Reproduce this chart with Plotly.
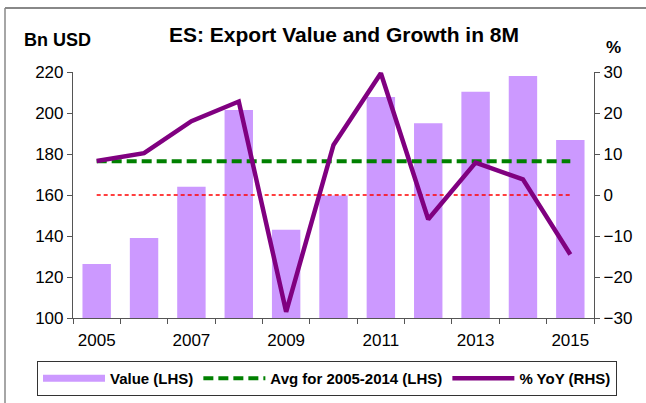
import plotly.graph_objects as go

years = list(range(2005, 2016))
value_bn_usd = [126.3, 139.0, 164.0, 201.5, 143.0, 159.8, 207.8, 195.0, 210.4, 218.0, 186.8]
yoy_pct = [8.3, 10.2, 18.0, 22.8, -28.5, 12.2, 29.7, -5.9, 7.9, 3.8, -14.5]
avg_years = years[:10]
avg_2005_2014 = sum(value_bn_usd[:10]) / len(avg_years)
zero_pct = [0] * len(years)

left_ticks = [100, 120, 140, 160, 180, 200, 220]
right_ticks = [-30, -20, -10, 0, 10, 20, 30]
x_label_years = [2005, 2007, 2009, 2011, 2013, 2015]
x_boundaries = [y - 0.5 for y in years] + [years[-1] + 0.5]

FONT = "Liberation Sans, Arial, sans-serif"
BAR_COLOR = "#CC99FF"
PW, PH = 521, 246  # plot area size in px

fig = go.Figure()
fig.add_trace(go.Bar(x=years, y=value_bn_usd, name="Value (LHS)", showlegend=False,
                     marker=dict(color=BAR_COLOR, line=dict(width=0)),
                     width=0.6, yaxis="y"))
fig.add_trace(go.Scatter(x=years, y=zero_pct, mode="lines", showlegend=False,
                         line=dict(color="#FF0000", width=1.5, dash="4px,3px"),
                         yaxis="y2", hoverinfo="skip"))
# legend-only entry for the bars (wide flat swatch as in reference)
fig.add_trace(go.Scatter(x=[None], y=[None], mode="lines", name="<b>Value (LHS)</b>",
                         line=dict(color=BAR_COLOR, width=7), yaxis="y"))
fig.add_trace(go.Scatter(x=years, y=[avg_2005_2014] * len(years), mode="lines",
                         name="<b>Avg for 2005-2014 (LHS)</b>",
                         line=dict(color="#008000", width=4, dash="10px,5px"),
                         yaxis="y"))
fig.add_trace(go.Scatter(x=years, y=yoy_pct, mode="lines", name="<b>% YoY (RHS)</b>",
                         line=dict(color="#800080", width=4.5),
                         yaxis="y2"))

fig.update_layout(
    width=646, height=403, autosize=False,
    margin=dict(l=73, r=52, t=72, b=85, autoexpand=False),
    paper_bgcolor="white", plot_bgcolor="white",
    font=dict(family=FONT, color="black", size=17),
    title=dict(text="<b>ES: Export Value and Growth in 8M</b>", x=344/646, xref="container",
               xanchor="center", y=1-35/403, yref="container", yanchor="middle",
               font=dict(size=21, family=FONT, color="black")),
    xaxis=dict(range=[2004.5, 2015.5], tickmode="array", tickvals=x_label_years,
               ticktext=[str(y) for y in x_label_years],
               ticks="outside", ticklen=6, tickcolor="rgba(0,0,0,0)",
               showline=True, linecolor="#555555", linewidth=1.2,
               showgrid=False, zeroline=False,
               minor=dict(tickmode="array", tickvals=x_boundaries, ticks="outside",
                          ticklen=5, tickcolor="#555555", showgrid=False),
               tickfont=dict(size=17)),
    yaxis=dict(range=[100, 220], tickmode="array", tickvals=left_ticks,
               ticks="outside", ticklen=5, tickcolor="#555555",
               showline=True, linecolor="#555555", linewidth=1.2,
               showgrid=False, zeroline=False, tickfont=dict(size=17)),
    yaxis2=dict(range=[-30, 30], tickmode="array", tickvals=right_ticks,
                overlaying="y", side="right",
                ticks="outside", ticklen=5, tickcolor="#555555",
                showline=True, linecolor="#555555", linewidth=1.2,
                showgrid=False, zeroline=False, tickfont=dict(size=17)),
    legend=dict(orientation="h", x=(37-73)/PW, xref="paper", xanchor="left",
                y=-(361-318)/PH, yref="paper", yanchor="top",
                bordercolor="#333333", borderwidth=1, bgcolor="white",
                font=dict(size=15, family=FONT, color="black"),
                traceorder="normal", itemwidth=62),
)

fig.add_annotation(text="<b>Bn USD</b>", xref="paper", yref="paper",
                   x=-(73-22)/PW, xanchor="left", y=1+(72-40)/PH, yanchor="middle",
                   showarrow=False, font=dict(size=18, family=FONT, color="black"))
fig.add_annotation(text="<b>%</b>", xref="paper", yref="paper",
                   x=1+(613-594)/PW, xanchor="center", y=1+(72-48)/PH, yanchor="middle",
                   showarrow=False, font=dict(size=17, family=FONT, color="black"))

# outer frame (top and left edges visible in reference)
fig.add_shape(type="line", xref="paper", yref="paper",
              x0=-(73-5)/PW, x1=1+(646-594)/PW, y0=1+(72-8)/PH, y1=1+(72-8)/PH,
              line=dict(color="#888888", width=2))
fig.add_shape(type="line", xref="paper", yref="paper",
              x0=-(73-5)/PW, x1=-(73-5)/PW, y0=1+(72-8)/PH, y1=-(403-318)/PH,
              line=dict(color="#888888", width=1.5))

fig.write_html("out.html", config={"displayModeBar": False},
               post_script="document.body.style.margin='0px';document.body.style.padding='0px';")
